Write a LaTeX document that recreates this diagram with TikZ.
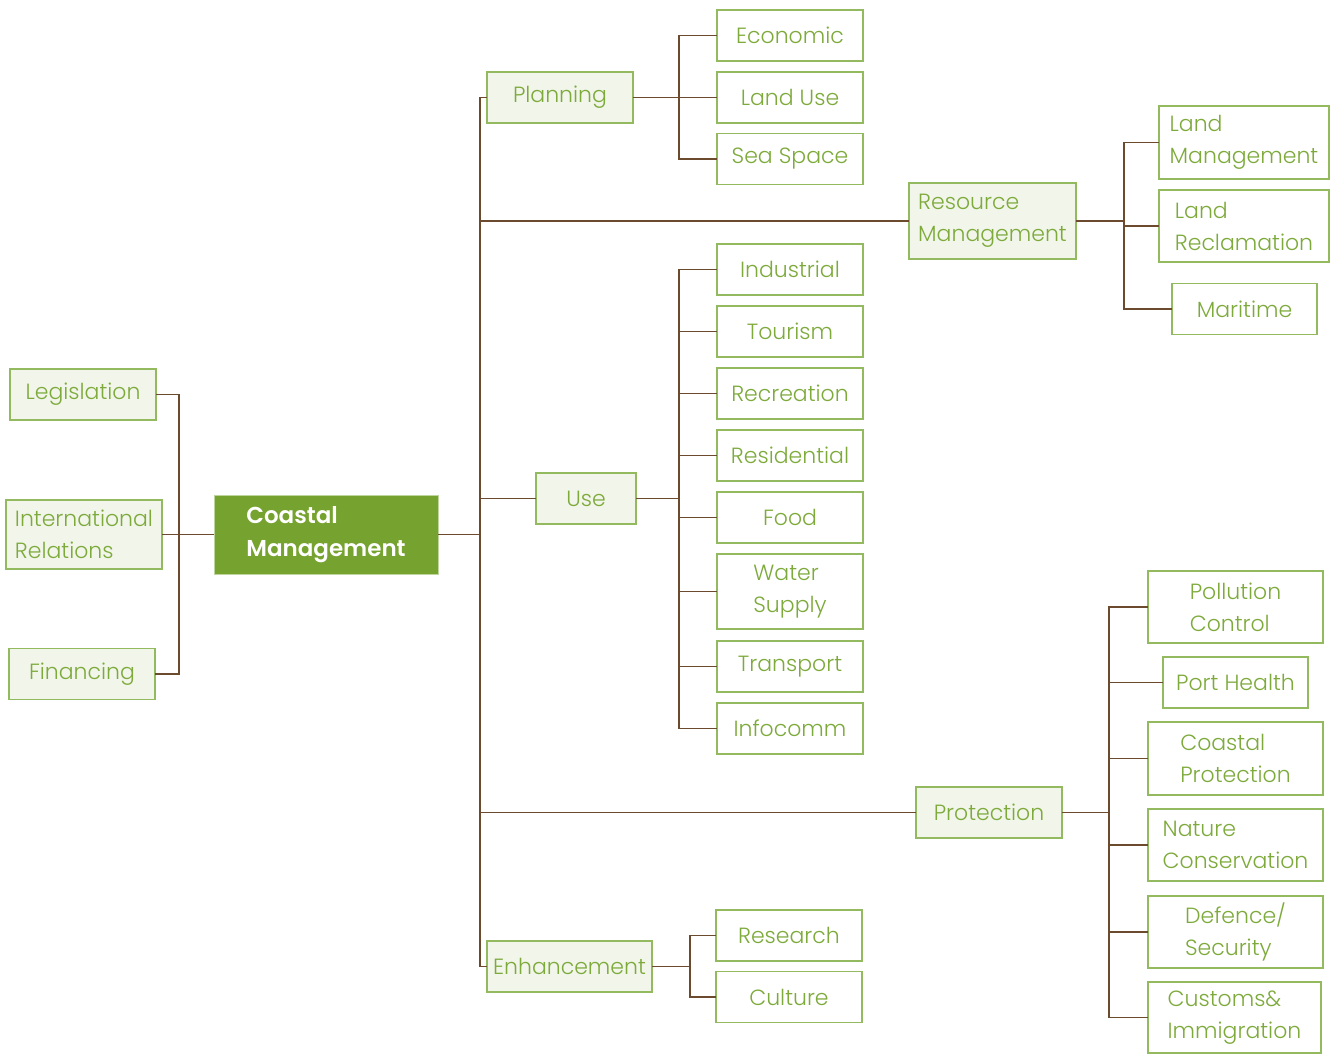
\documentclass[tikz,border=0pt]{standalone}
\usepackage{fontspec}
\setmainfont{Poppins}[UprightFont=* Light, BoldFont=* SemiBold]
\usetikzlibrary{positioning,calc}
\definecolor{cgreen}{HTML}{76A22F}
\definecolor{ctext}{HTML}{7DAA3A}
\definecolor{cedge}{HTML}{93BA5E}
\definecolor{cfill}{HTML}{F1F5EA}
\definecolor{cbrown}{HTML}{6B4A2E}
\begin{document}
\begin{tikzpicture}[
  x=1pt, y=-1pt,
  font=\fontsize{22}{32}\selectfont,
  leaf/.style={draw=cedge, fill=white, line width=1.4pt, text=ctext, align=left,
    inner sep=0pt, minimum width=146pt, minimum height=51pt},
  hub/.style={leaf, fill=cfill},
  root/.style={fill=cgreen, draw=cedge!60, text=white, align=left, inner sep=0pt,
    font=\fontsize{23}{33}\selectfont\bfseries, minimum width=224pt, minimum height=79pt},
  link/.style={draw=cbrown, line width=1.3pt, line cap=rect},
]
\useasboundingbox (0,0) rectangle (1338,1055);
% centre and left side
\node[root] (cm) at (326,534.5) {Coastal\\Management};
\node[hub] (legis) at (83,394.5) {Legislation};
\node[hub, minimum width=156pt, minimum height=69pt] (intl) at (84,534.5) {International\\Relations};
\node[hub] (fin) at (82,674) {Financing};
\coordinate (lbus) at (179,0);
\draw[link] (legis.east -| lbus) -- (fin.east -| lbus);
\foreach \n in {legis,fin} \draw[link] (\n.east) -- (\n.east -| lbus);
\draw[link] (intl.east) -- (intl.east -| cm.west);
% trunk
\coordinate (trunk) at (480,0);
\node[hub] (plan) at (560,97.5) {Planning};
\node[hub, minimum width=167pt, minimum height=76pt] (res) at (992.5,221) {Resource\\Management};
\node[hub, minimum width=100pt] (use) at (586,498.5) {Use};
\node[hub] (prot) at (989,812.5) {Protection};
\node[hub, minimum width=165pt] (enh) at (569.5,966.5) {Enhancement};
\draw[link] (plan.west -| trunk) -- (enh.west -| trunk);
\draw[link] (cm.east) -- (cm.east -| trunk);
\foreach \n in {plan,res,use,prot,enh} \draw[link] (\n.west -| trunk) -- (\n.west);
% planning
\node[leaf] (econ) at (790,35.5) {Economic};
\node[leaf] (landuse) at (790,97.5) {Land Use};
\node[leaf] (sea) at (790,159) {Sea Space};
\coordinate (pbus) at (679,0);
\draw[link] (econ.west -| pbus) -- (sea.west -| pbus);
\draw[link] (plan.east) -- (landuse.west);
\foreach \n in {econ,sea} \draw[link] (\n.west -| pbus) -- (\n.west);
% resource management
\node[leaf, minimum width=170pt, minimum height=73pt] (landman) at (1244,142.5) {Land\\Management};
\node[leaf, minimum width=170pt, minimum height=72pt] (landrec) at (1244,226) {Land\\Reclamation};
\node[leaf, minimum width=145pt] (mari) at (1244.5,309) {Maritime};
\coordinate (rbus) at (1124,0);
\draw[link] (landman.west -| rbus) -- (mari.west -| rbus);
\draw[link] (res.east) -- (res.east -| rbus);
\foreach \n in {landman,landrec,mari} \draw[link] (\n.west -| rbus) -- (\n.west);
% use
\node[leaf] (ind) at (790,269.5) {Industrial};
\node[leaf] (tour) at (790,331.5) {Tourism};
\node[leaf] (recr) at (790,393.5) {Recreation};
\node[leaf] (resi) at (790,455.5) {Residential};
\node[leaf] (food) at (790,517.5) {Food};
\node[leaf, minimum height=75pt] (water) at (790,591.5) {Water\\Supply};
\node[leaf] (trans) at (790,666.5) {Transport};
\node[leaf] (info) at (790,728.5) {Infocomm};
\coordinate (ubus) at (679,0);
\draw[link] (ind.west -| ubus) -- (info.west -| ubus);
\draw[link] (use.east) -- (use.east -| ubus);
\foreach \n in {ind,tour,recr,resi,food,water,trans,info} \draw[link] (\n.west -| ubus) -- (\n.west);
% protection
\node[leaf, minimum width=175pt, minimum height=72pt] (poll) at (1235.5,607) {Pollution\\Control};
\node[leaf, minimum width=145pt] (port) at (1235.5,682.5) {Port Health};
\node[leaf, minimum width=175pt, minimum height=73pt] (coast) at (1235.5,758.5) {Coastal\\Protection};
\node[leaf, minimum width=175pt, minimum height=72pt] (nat) at (1235.5,845) {Nature\\Conservation};
\node[leaf, minimum width=175pt, minimum height=72pt] (def) at (1235.5,932) {Defence/\\Security};
\node[leaf, minimum width=173pt, minimum height=71pt] (cust) at (1234.5,1017.5) {Customs\&\\Immigration};
\coordinate (pbus2) at (1109,0);
\draw[link] (poll.west -| pbus2) -- (cust.west -| pbus2);
\draw[link] (prot.east) -- (prot.east -| pbus2);
\foreach \n in {poll,port,coast,nat,def,cust} \draw[link] (\n.west -| pbus2) -- (\n.west);
% enhancement
\node[leaf] (rsch) at (789,935.5) {Research};
\node[leaf] (cult) at (789,997) {Culture};
\coordinate (ebus) at (690,0);
\draw[link] (rsch.west -| ebus) -- (cult.west -| ebus);
\draw[link] (enh.east) -- (enh.east -| ebus);
\foreach \n in {rsch,cult} \draw[link] (\n.west -| ebus) -- (\n.west);
\end{tikzpicture}
\end{document}
